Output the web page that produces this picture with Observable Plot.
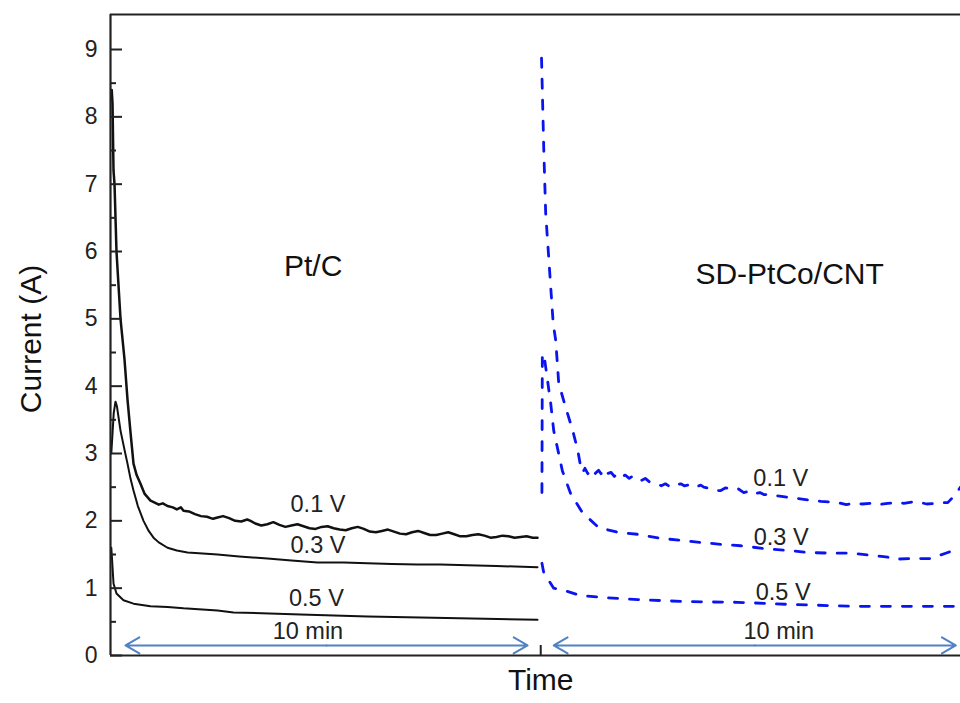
<!DOCTYPE html>
<html><head><meta charset="utf-8">
<script src="https://cdn.jsdelivr.net/npm/d3@7"></script>
<script src="https://cdn.jsdelivr.net/npm/@observablehq/plot@0.6"></script>
<style>body{margin:0;background:#fff;font-family:"Liberation Sans",Arial,sans-serif}</style>
</head><body><div id="chart"></div>
<script>
// time in minutes; the SD-PtCo/CNT panel starts at the divider
const divider = 10.7;
const yMax = 9.52;
const xMax = 21.14;

// Pt/C (black solid) [minutes, current A]
const ptc01 = [[0.03,8.4],[0.05,8.2],[0.075,7.2],[0.1,7.0],[0.149,6.0],[0.249,5.0],[0.348,4.4],[0.423,3.8],[0.5,3.3],[0.572,2.85],[0.65,2.68],[0.746,2.55],[0.85,2.4],[0.995,2.3],[1.1,2.27],[1.2,2.24],[1.3,2.26],[1.418,2.22],[1.55,2.2],[1.65,2.17],[1.75,2.2],[1.816,2.15],[1.95,2.14],[2.1,2.1],[2.25,2.07],[2.4,2.06],[2.55,2.03],[2.662,2.05],[2.8,2.07],[2.95,2.04],[3.1,2.0],[3.25,1.99],[3.4,2.02],[3.483,2.0],[3.6,1.96],[3.75,1.93],[3.9,1.95],[4.05,1.98],[4.2,1.94],[4.35,1.91],[4.5,1.93],[4.65,1.95],[4.8,1.92],[4.95,1.89],[5.1,1.88],[5.25,1.91],[5.4,1.92],[5.55,1.89],[5.7,1.87],[5.85,1.86],[6.0,1.89],[6.15,1.91],[6.3,1.88],[6.45,1.84],[6.6,1.83],[6.75,1.85],[6.9,1.87],[7.05,1.84],[7.2,1.81],[7.35,1.8],[7.5,1.83],[7.65,1.85],[7.8,1.82],[7.95,1.79],[8.1,1.79],[8.25,1.81],[8.4,1.83],[8.55,1.8],[8.7,1.77],[8.85,1.77],[9.0,1.79],[9.15,1.8],[9.3,1.78],[9.45,1.75],[9.6,1.76],[9.75,1.78],[9.9,1.77],[10.05,1.75],[10.2,1.76],[10.35,1.77],[10.5,1.75],[10.62,1.75]];
const ptc03 = [[0.02,3.0],[0.08,3.6],[0.124,3.77],[0.16,3.7],[0.249,3.34],[0.35,3.05],[0.423,2.85],[0.5,2.62],[0.572,2.45],[0.68,2.22],[0.821,2.0],[0.95,1.85],[1.07,1.75],[1.2,1.68],[1.418,1.6],[1.65,1.56],[1.915,1.53],[2.2,1.52],[2.662,1.5],[3.2,1.47],[3.905,1.44],[4.5,1.41],[5.149,1.38],[5.8,1.38],[6.393,1.37],[7.0,1.36],[7.637,1.35],[8.2,1.35],[8.881,1.34],[9.6,1.33],[10.62,1.31]];
const ptc05 = [[0.02,1.6],[0.04,1.41],[0.075,1.07],[0.149,0.92],[0.323,0.82],[0.572,0.77],[0.995,0.73],[1.418,0.72],[1.816,0.7],[2.662,0.67],[3.06,0.64],[4.726,0.61],[6.393,0.58],[8.035,0.56],[10.62,0.53]];

// SD-PtCo/CNT (blue dashed), minutes from the divider
const sd01 = [[0.02,8.87],[0.075,7.53],[0.124,6.56],[0.199,5.91],[0.31,4.93],[0.373,4.68],[0.448,4.04],[0.622,3.68],[0.796,3.34],[0.92,3.05],[0.995,2.8],[1.045,2.72],[1.1,2.78],[1.17,2.7],[1.25,2.76],[1.33,2.69],[1.44,2.75],[1.5,2.7],[1.567,2.77],[1.65,2.7],[1.75,2.72],[1.83,2.66],[1.915,2.7],[1.99,2.65],[2.1,2.68],[2.2,2.63],[2.3,2.67],[2.413,2.63],[2.5,2.6],[2.6,2.63],[2.7,2.58],[2.811,2.57],[2.9,2.55],[3.0,2.52],[3.1,2.55],[3.234,2.5],[3.35,2.53],[3.483,2.55],[3.57,2.52],[3.657,2.53],[3.8,2.49],[3.98,2.53],[4.055,2.5],[4.2,2.48],[4.35,2.45],[4.478,2.45],[4.6,2.49],[4.75,2.47],[4.9,2.48],[5.05,2.42],[5.2,2.44],[5.299,2.4],[5.45,2.42],[5.547,2.39],[5.721,2.39],[5.9,2.37],[6.144,2.35],[6.3,2.34],[6.542,2.32],[6.8,2.3],[6.965,2.29],[7.2,2.28],[7.388,2.27],[7.6,2.24],[7.786,2.26],[8.0,2.25],[8.209,2.26],[8.4,2.24],[8.632,2.26],[8.85,2.27],[9.03,2.26],[9.25,2.28],[9.453,2.27],[9.6,2.25],[9.8,2.26],[10.0,2.27],[10.124,2.27],[10.25,2.35],[10.323,2.4],[10.44,2.5]];
const sd03 = [[0.03,2.42],[0.04,4.48],[0.083,4.46],[0.249,3.74],[0.323,3.34],[0.539,2.74],[0.746,2.4],[1.04,2.12],[1.443,1.9],[1.915,1.83],[2.413,1.8],[2.985,1.74],[3.483,1.71],[3.98,1.68],[4.478,1.65],[4.975,1.63],[5.547,1.59],[6.144,1.56],[6.642,1.53],[7.214,1.52],[7.711,1.52],[8.209,1.49],[8.632,1.46],[8.781,1.43],[9.204,1.44],[9.701,1.44],[10.124,1.53],[10.323,1.57],[10.44,1.56]];
const sd05 = [[0.03,1.37],[0.075,1.23],[0.323,1.0],[0.572,0.97],[0.995,0.89],[1.567,0.86],[2.413,0.83],[3.657,0.8],[4.9,0.79],[6.144,0.76],[7.786,0.73],[10.44,0.73]];

// y ticks
const majorTicks = d3.range(0, 10);
const minorTicks = d3.range(0.5, 9.5, 1);

// annotations
const panelTitles = ["Pt/C", "SD-PtCo/CNT"];
const voltageLabels = ["0.1 V", "0.3 V", "0.5 V"];
const spanLabel = "10 min";

const W = 960, H = 703, ML = 110, MR = 0, MT = 14, MB = 48;
const frameW = W - ML - MR, frameH = H - MT - MB;

const toRows = (arr, name, offset) => arr.map(([t, v]) => ({t: t + offset, v, name}));
const ptcRows01 = toRows(ptc01, "0.1 V", 0);
const ptcRows = [...toRows(ptc03, "0.3 V", 0), ...toRows(ptc05, "0.5 V", 0)];
const sdRows = [...toRows(sd01, "0.1 V", divider), ...toRows(sd03, "0.3 V", divider), ...toRows(sd05, "0.5 V", divider)];

const titleRows = [
  {t: 5.04, v: 5.78, text: panelTitles[0]},
  {t: divider + 6.19, v: 5.66, text: panelTitles[1]}
];
const voltRows = [
  {t: 5.16, v: 2.24, text: voltageLabels[0]},
  {t: 5.16, v: 1.63, text: voltageLabels[1]},
  {t: 5.12, v: 0.85, text: voltageLabels[2]},
  {t: divider + 5.97, v: 2.63, text: voltageLabels[0]},
  {t: divider + 5.98, v: 1.76, text: voltageLabels[1]},
  {t: divider + 6.03, v: 0.94, text: voltageLabels[2]},
  {t: 4.91, v: 0.35, text: spanLabel},
  {t: divider + 5.92, v: 0.35, text: spanLabel}
];
// 10-minute spans (double arrows drawn from the middle outward)
const spans = [[0.373, 10.373], [divider + 0.323, divider + 10.323]];
const arrowY = 0.15;
const arrowRows = spans.flatMap(([a, b]) => {
  const m = (a + b) / 2;
  return [{x1: m, x2: a}, {x1: m, x2: b}];
});

const chart = Plot.plot({
  width: W,
  height: H,
  marginLeft: ML,
  marginRight: MR,
  marginTop: MT,
  marginBottom: MB,
  style: {fontFamily: "'Liberation Sans', Arial, sans-serif", background: "#fff", color: "#222"},
  x: {domain: [0, xMax], axis: null},
  y: {domain: [0, yMax], axis: null},
  marks: [
    Plot.line(ptcRows01, {x: "t", y: "v", z: "name", stroke: "#111", strokeWidth: 2.5}),
    Plot.line(ptcRows, {x: "t", y: "v", z: "name", stroke: "#111", strokeWidth: 2}),
    Plot.line(sdRows, {x: "t", y: "v", z: "name", stroke: "#0a14f0", strokeWidth: 2.8, strokeDasharray: "9,12", clip: true}),
    Plot.arrow(arrowRows, {x1: "x1", x2: "x2", y1: () => arrowY, y2: () => arrowY, stroke: "#5082c4", strokeWidth: 2, headLength: 12, headAngle: 60}),
    Plot.text(titleRows, {x: "t", y: "v", text: "text", fontSize: 30, fill: "#111"}),
    Plot.text(voltRows, {x: "t", y: "v", text: "text", fontSize: 23.5, fill: "#222"}),
    Plot.axisY(majorTicks, {tickSize: 0, tickPadding: 13, tickFormat: d => String(d), fontSize: 23, label: null, stroke: "none", fill: "#222"}),
    Plot.tickY(majorTicks, {y: d => d, insetRight: frameW - 12, stroke: "#222", strokeWidth: 2}),
    Plot.tickY(minorTicks, {y: d => d, insetRight: frameW - 6, stroke: "#222", strokeWidth: 2}),
    Plot.tickX([divider], {x: d => d, insetTop: frameH - 10, stroke: "#222", strokeWidth: 2}),
    Plot.ruleX([0], {stroke: "#222", strokeWidth: 2.2}),
    Plot.ruleY([0, yMax], {stroke: "#222", strokeWidth: 2.2}),
    Plot.text(["Current (A)"], {text: d => d, frameAnchor: "left", textAnchor: "middle", dx: -79, dy: 4, rotate: -90, fontSize: 30, fill: "#111"}),
    Plot.text(["Time"], {text: d => d, x: () => divider, frameAnchor: "bottom", dy: 34, fontSize: 30, fill: "#111"})
  ]
});
document.getElementById("chart").appendChild(chart);
</script>
</body></html>
